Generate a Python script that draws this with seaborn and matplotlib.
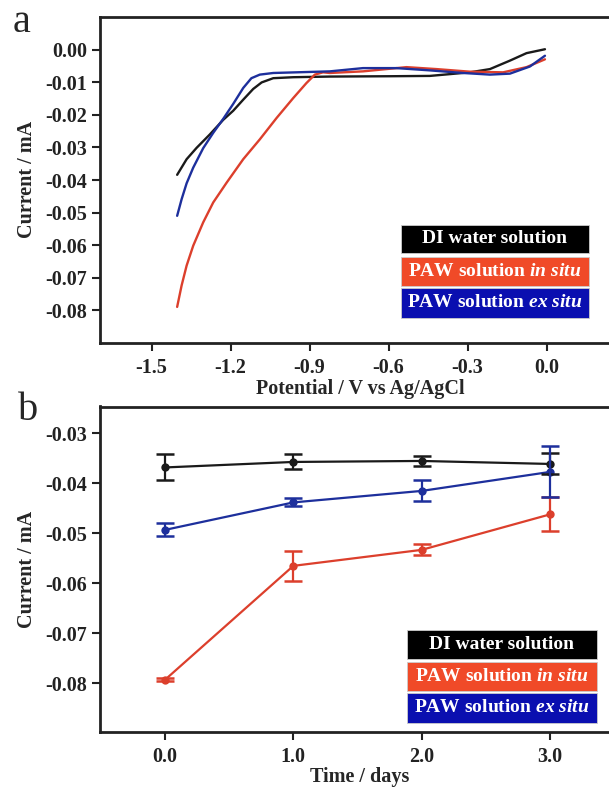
import numpy as np
import pandas as pd
import matplotlib
matplotlib.use("Agg")
import matplotlib.pyplot as plt
import seaborn as sns
from matplotlib.patches import Rectangle

sns.set_theme(style="white")
plt.rcParams["font.family"] = ["Liberation Serif", "DejaVu Serif"]
plt.rcParams["font.weight"] = "bold"
plt.rcParams["mathtext.fontset"] = "custom"
plt.rcParams["mathtext.it"] = "Liberation Serif:italic:bold"
plt.rcParams["mathtext.rm"] = "Liberation Serif:bold"

# ---------------- data ----------------
series_names = ["DI water solution", "PAW solution in situ", "PAW solution ex situ"]
legend_labels = ["DI water solution",
                 r"PAW solution $\mathit{in\ situ}$",
                 r"PAW solution $\mathit{ex\ situ}$"]
line_colors = ["#1a1a1a", "#dc3f2c", "#1d2f9c"]
legend_colors = ["#000000", "#f04a28", "#0a0fb0"]

# panel a: linear sweep curves (potential V vs Ag/AgCl, current mA)
di_potential = [-1.403, -1.367, -1.329, -1.279, -1.228, -1.190, -1.152, -1.114, -1.082,
                -1.038, -0.962, -0.823, -0.600, -0.443, -0.291, -0.215, -0.139, -0.076, -0.006]
di_current = [-0.0384, -0.0336, -0.0301, -0.0260, -0.0215, -0.0187, -0.0153, -0.0120, -0.0100,
              -0.0087, -0.0084, -0.0082, -0.0081, -0.0080, -0.0069, -0.0059, -0.0033, -0.0010, 0.0002]

insitu_potential = [-1.403, -1.386, -1.367, -1.342, -1.304, -1.266, -1.215, -1.152, -1.089,
                    -1.025, -0.962, -0.912, -0.880, -0.849, -0.823, -0.697, -0.532, -0.418,
                    -0.291, -0.165, -0.076, -0.006]
insitu_current = [-0.0790, -0.0724, -0.0663, -0.0602, -0.0530, -0.0469, -0.0408, -0.0336, -0.0275,
                  -0.0209, -0.0148, -0.0102, -0.0076, -0.0069, -0.0071, -0.0066, -0.0053, -0.0059,
                  -0.0067, -0.0069, -0.0053, -0.0029]

exsitu_potential = [-1.403, -1.386, -1.367, -1.342, -1.304, -1.266, -1.228, -1.190, -1.152,
                    -1.121, -1.089, -1.038, -0.823, -0.697, -0.570, -0.443, -0.317, -0.215,
                    -0.139, -0.063, -0.006]
exsitu_current = [-0.0510, -0.0459, -0.0410, -0.0362, -0.0302, -0.0255, -0.0212, -0.0166, -0.0117,
                  -0.0087, -0.0076, -0.0071, -0.0066, -0.0056, -0.0056, -0.0063, -0.0071, -0.0076,
                  -0.0073, -0.0051, -0.0018]

# panel b: current vs time
days = [0, 1, 2, 3]
di_mean = [-0.0368, -0.0357, -0.0355, -0.0361]
di_err = [0.0026, 0.0015, 0.0010, 0.0021]
insitu_mean = [-0.0793, -0.0565, -0.0533, -0.0462]
insitu_err = [0.0003, 0.0030, 0.0011, 0.0034]
exsitu_mean = [-0.0493, -0.0438, -0.0415, -0.0377]
exsitu_err = [0.0013, 0.0008, 0.0021, 0.0051]

a_xticks = [-1.5, -1.2, -0.9, -0.6, -0.3, 0.0]
a_yticks = [0.00, -0.01, -0.02, -0.03, -0.04, -0.05, -0.06, -0.07, -0.08]
b_xticks = [0.0, 1.0, 2.0, 3.0]
b_yticks = [-0.03, -0.04, -0.05, -0.06, -0.07, -0.08]

# ---------------- frames ----------------
df_a = pd.concat([
    pd.DataFrame({"potential": di_potential, "current": di_current, "series": series_names[0]}),
    pd.DataFrame({"potential": insitu_potential, "current": insitu_current, "series": series_names[1]}),
    pd.DataFrame({"potential": exsitu_potential, "current": exsitu_current, "series": series_names[2]}),
], ignore_index=True)

df_b = pd.concat([
    pd.DataFrame({"day": days, "current": di_mean, "err": di_err, "series": series_names[0]}),
    pd.DataFrame({"day": days, "current": insitu_mean, "err": insitu_err, "series": series_names[1]}),
    pd.DataFrame({"day": days, "current": exsitu_mean, "err": exsitu_err, "series": series_names[2]}),
], ignore_index=True)

palette = dict(zip(series_names, line_colors))

W, H = 609, 787
fig = plt.figure(figsize=(W / 100, H / 100), dpi=100)

def px_axes(left, top, right, bottom):
    return fig.add_axes([left / W, 1 - bottom / H, (right - left) / W, (bottom - top) / H])

ax_a = px_axes(100, 16.7, 620, 342.7)
ax_b = px_axes(100, 406.5, 620, 731.7)

# panel a
sns.lineplot(data=df_a, x="potential", y="current", hue="series", palette=palette,
             sort=False, estimator=None, linewidth=1.7, legend=False, ax=ax_a)
for ln in ax_a.lines:
    ln.set_solid_joinstyle("round")
    ln.set_solid_capstyle("round")
ax_a.set_xlim(-1.696, 0.279)
ax_a.set_ylim(-0.09, 0.0102)
ax_a.set_xticks(a_xticks)
ax_a.set_xticklabels([f"{t:.1f}" for t in a_xticks])
ax_a.set_yticks(a_yticks)
ax_a.set_yticklabels([f"{t:.2f}" for t in a_yticks])
ax_a.set_xlabel("Potential / V vs Ag/AgCl", fontsize=14.5, fontweight="bold", labelpad=0.5)
ax_a.set_ylabel("Current / mA", fontsize=14.5, fontweight="bold", labelpad=6)

# panel b
sns.lineplot(data=df_b, x="day", y="current", hue="series", palette=palette,
             marker="o", markersize=6, markeredgewidth=0, linewidth=1.6,
             legend=False, ax=ax_b)
for name, col in zip(series_names, line_colors):
    sub = df_b[df_b["series"] == name]
    ax_b.errorbar(sub["day"], sub["current"], yerr=sub["err"], fmt="none",
                  ecolor=col, elinewidth=1.6, capsize=6.5, capthick=1.8)
ax_b.set_xlim(-0.507, 3.546)
ax_b.set_ylim(-0.0897, -0.0246)
ax_b.set_xticks(b_xticks)
ax_b.set_xticklabels([f"{t:.1f}" for t in b_xticks])
ax_b.set_yticks(b_yticks)
ax_b.set_yticklabels([f"{t:.2f}" for t in b_yticks])
ax_b.set_xlabel("Time / days", fontsize=14.5, fontweight="bold", labelpad=0)
ax_b.set_ylabel("Current / mA", fontsize=14.5, fontweight="bold", labelpad=6)

for ax in (ax_a, ax_b):
    for sp in ax.spines.values():
        sp.set_color("#222222")
        sp.set_linewidth(2)
    ax.tick_params(axis="both", direction="out", length=6, width=1.5, color="#222222",
                   labelsize=14.5, labelcolor="#222222")
    ax.tick_params(axis="x", pad=5, bottom=True)
    ax.tick_params(axis="y", pad=3, left=True)
    for lab in ax.get_xticklabels() + ax.get_yticklabels():
        lab.set_fontweight("bold")
    ax.grid(False)

def boxed_legend(ax, x0, x1, rows):
    for (ytop, ybot), label, col in zip(rows, legend_labels, legend_colors):
        ax.add_patch(Rectangle((x0, ybot), x1 - x0, ytop - ybot, transform=ax.transAxes,
                               facecolor=col, edgecolor="#cccccc", linewidth=0.6,
                               clip_on=False, zorder=5))
        ax.text((x0 + x1) / 2, (ytop + ybot) / 2, label, transform=ax.transAxes,
                ha="center", va="center", color="white", fontsize=14,
                fontweight="bold", zorder=6)

boxed_legend(ax_a, 0.578, 0.9404, [(0.362, 0.2742), (0.2638, 0.1748), (0.1669, 0.0767)])
boxed_legend(ax_b, 0.5898, 0.9552, [(0.3127, 0.2226), (0.2143, 0.1261), (0.1181, 0.0277)])

fig.text(22 / W, 1 - 22 / H, "a", fontsize=29, fontweight="normal", ha="center", va="center")
fig.text(28 / W, 1 - 410 / H, "b", fontsize=29, fontweight="normal", ha="center", va="center")

fig.savefig("out.png", dpi=100)
